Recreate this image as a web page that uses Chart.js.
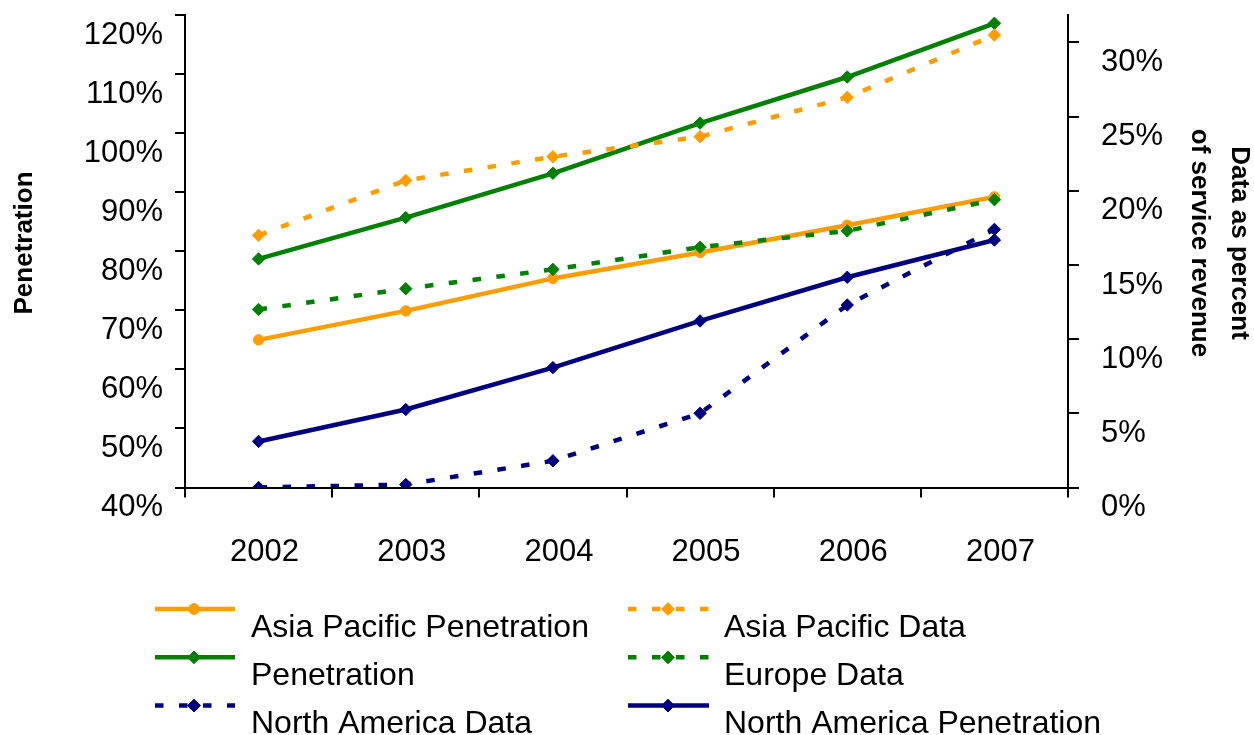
<!DOCTYPE html>
<html>
<head>
<meta charset="utf-8">
<script src="https://cdn.jsdelivr.net/npm/chart.js@4.4.1/dist/chart.umd.min.js"></script>
<style>
  html, body { margin: 0; padding: 0; background: #ffffff; }
  #wrap { width: 1254px; height: 735px; position: relative; }
  canvas { display: block; }
</style>
</head>
<body>
<div id="wrap"><canvas id="chart" width="1254" height="735"></canvas></div>
<script>
// Mobile penetration (left axis, %) and data share of service revenue (right axis, %)
const years = ['2002', '2003', '2004', '2005', '2006', '2007'];

const asiaPacificPenetration = [65.0, 69.9, 75.4, 79.8, 84.4, 89.2];
const europePenetration      = [78.7, 85.7, 93.2, 101.7, 109.5, 118.6];
const northAmericaPenetration = [47.8, 53.2, 60.3, 68.2, 75.6, 81.9];

const asiaPacificData  = [17.0, 20.7, 22.3, 23.65, 26.3, 30.5];
const europeData       = [12.0, 13.4, 14.7, 16.2, 17.3, 19.4];
const northAmericaData = [0.0, 0.2, 1.8, 5.0, 12.3, 17.4];

const penetrationTicks = [40, 50, 60, 70, 80, 90, 100, 110, 120];
const revenueTicks = [0, 5, 10, 15, 20, 25, 30];

const ORANGE = '#FF9C00';
const GREEN = '#008000';
const NAVY = '#000080';
const DASH = [8.5, 15.5];
const LINE_W = 4.5;
const FONT = "'Liberation Sans', Arial, Helvetica, sans-serif";

function series(label, data, color, axis, dashed, pointStyle, order) {
  return {
    label: label,
    data: data,
    yAxisID: axis,
    borderColor: color,
    backgroundColor: color,
    borderWidth: LINE_W,
    borderDash: dashed ? DASH : [],
    borderCapStyle: 'butt',
    tension: 0,
    pointStyle: pointStyle,
    pointRadius: pointStyle === 'circle' ? 5.2 : 6.2,
    pointBorderWidth: 1,
    pointBorderColor: color,
    pointBackgroundColor: color,
    pointHoverRadius: 6,
    fill: false,
    order: order
  };
}

const datasets = [
  series('Asia Pacific Penetration', asiaPacificPenetration, ORANGE, 'yL', false, 'circle', 6),
  series('Penetration', europePenetration, GREEN, 'yL', false, 'rectRot', 5),
  series('North America Data', northAmericaData, NAVY, 'yR', true, 'rectRot', 4),
  series('Asia Pacific Data', asiaPacificData, ORANGE, 'yR', true, 'rectRot', 3),
  series('Europe Data', europeData, GREEN, 'yR', true, 'rectRot', 2),
  series('North America Penetration', northAmericaPenetration, NAVY, 'yL', false, 'rectRot', 1)
];

// Two-column legend: line sample on top, name written beneath and to the right
const legendLayout = [
  { ds: 0, col: 0, row: 0 }, { ds: 3, col: 1, row: 0 },
  { ds: 1, col: 0, row: 1 }, { ds: 4, col: 1, row: 1 },
  { ds: 2, col: 0, row: 2 }, { ds: 5, col: 1, row: 2 }
];

const legendPlugin = {
  id: 'sampleLegend',
  afterDraw(chart) {
    const ctx = chart.ctx;
    const cols = [
      { x0: 155, x1: 235, mx: 194, tx: 251 },
      { x0: 628, x1: 709, mx: 668, tx: 724 }
    ];
    legendLayout.forEach(item => {
      const ds = chart.data.datasets[item.ds];
      const c = cols[item.col];
      const y = 609 + item.row * 48.3;
      ctx.save();
      ctx.strokeStyle = ds.borderColor;
      ctx.lineWidth = LINE_W;
      ctx.lineCap = 'butt';
      ctx.setLineDash(ds.borderDash || []);
      ctx.beginPath();
      ctx.moveTo(c.x0, y);
      ctx.lineTo(c.x1, y);
      ctx.stroke();
      ctx.setLineDash([]);
      ctx.lineWidth = 1;
      Chart.helpers.drawPoint(ctx, {
        pointStyle: ds.pointStyle,
        radius: ds.pointRadius,
        rotation: 0,
        borderWidth: 1
      }, c.mx, y);
      ctx.fillStyle = ds.borderColor;
      ctx.fill();
      ctx.stroke();
      ctx.fillStyle = '#000';
      ctx.font = '32px ' + FONT;
      ctx.textAlign = 'left';
      ctx.textBaseline = 'alphabetic';
      ctx.fillText(ds.label, c.tx, y + 27.7);
      ctx.restore();
    });
  }
};

// Rotated axis titles
const titlePlugin = {
  id: 'axisTitles',
  afterDraw(chart) {
    const ctx = chart.ctx;
    ctx.save();
    ctx.fillStyle = '#000';
    ctx.font = 'bold 26px ' + FONT;
    ctx.textAlign = 'center';
    ctx.textBaseline = 'alphabetic';
    ctx.translate(31.5, 243);
    ctx.rotate(-Math.PI / 2);
    ctx.fillText('Penetration', 0, 0);
    ctx.restore();

    ctx.save();
    ctx.fillStyle = '#000';
    ctx.font = 'bold 26px ' + FONT;
    ctx.textAlign = 'center';
    ctx.textBaseline = 'alphabetic';
    ctx.translate(1232, 243);
    ctx.rotate(Math.PI / 2);
    ctx.fillText('Data as percent', 0, 0);
    ctx.fillText('of service revenue', 0, 40);
    ctx.restore();
  }
};

function fixedWidth(w) {
  return function (scale) {
    scale.width = w;
    scale.paddingTop = 0;
    scale.paddingBottom = 0;
  };
}

new Chart(document.getElementById('chart'), {
  type: 'line',
  data: { labels: years, datasets: datasets },
  plugins: [legendPlugin, titlePlugin],
  options: {
    responsive: false,
    devicePixelRatio: 1,
    animation: false,
    layout: { padding: { top: 15, bottom: 167.5, left: 0, right: 0 } },
    plugins: {
      legend: { display: false },
      tooltip: { enabled: false }
    },
    scales: {
      x: {
        type: 'category',
        offset: true,
        grid: {
          offset: true,
          drawOnChartArea: false,
          drawTicks: true,
          tickLength: 10,
          color: '#000',
          lineWidth: 2
        },
        border: { display: true, color: '#000', width: 2 },
        ticks: {
          color: '#000',
          font: { family: FONT, size: 31 },
          padding: 36,
          labelOffset: 6,
          maxRotation: 0,
          autoSkip: false
        },
        afterFit(scale) {
          scale.height = 80;
          scale.paddingLeft = 0;
          scale.paddingRight = 0;
        }
      },
      yL: {
        type: 'linear',
        position: 'left',
        min: 40,
        max: 120,
        grid: {
          drawOnChartArea: false,
          drawTicks: true,
          tickLength: 10,
          color: '#000',
          lineWidth: 2
        },
        border: { display: true, color: '#000', width: 2 },
        ticks: {
          stepSize: 10,
          color: '#000',
          font: { family: FONT, size: 31 },
          padding: 12,
          labelOffset: 20,
          callback: v => v + '%'
        },
        afterBuildTicks(scale) {
          scale.ticks = penetrationTicks.map(v => ({ value: v }));
        },
        afterFit: fixedWidth(185)
      },
      yR: {
        type: 'linear',
        position: 'right',
        min: 0,
        max: 31.85,
        grid: {
          drawOnChartArea: false,
          drawTicks: true,
          tickLength: 11,
          color: '#000',
          lineWidth: 2
        },
        border: { display: true, color: '#000', width: 2 },
        ticks: {
          stepSize: 5,
          includeBounds: false,
          color: '#000',
          font: { family: FONT, size: 31 },
          padding: 22,
          labelOffset: 20,
          callback: v => v + '%'
        },
        afterBuildTicks(scale) {
          scale.ticks = revenueTicks.map(v => ({ value: v }));
        },
        afterFit: fixedWidth(186)
      }
    }
  }
});
</script>
</body>
</html>
